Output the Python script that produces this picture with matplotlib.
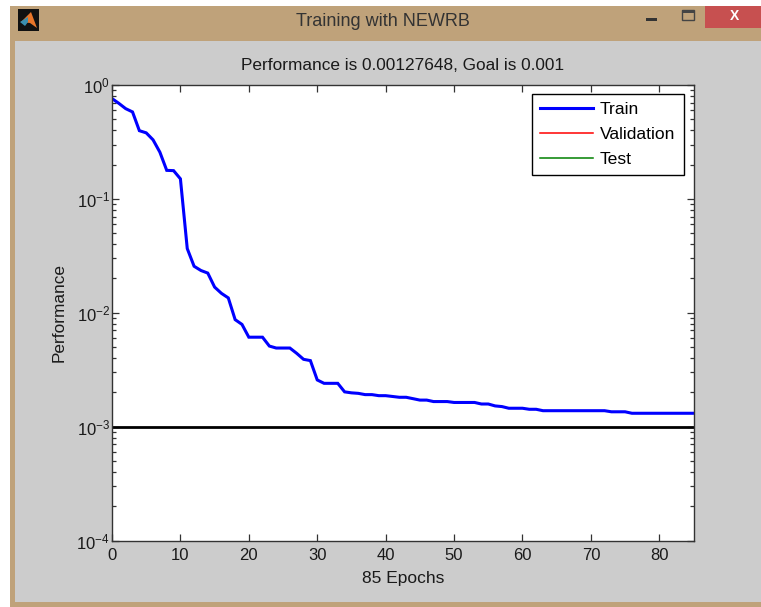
import matplotlib
matplotlib.use("Agg")
import matplotlib.pyplot as plt
from matplotlib.patches import Rectangle, Polygon
from matplotlib.ticker import LogLocator, NullFormatter

plt.rcParams["font.family"] = ["Liberation Sans", "DejaVu Sans"]
plt.rcParams["mathtext.fontset"] = "custom"
plt.rcParams["mathtext.rm"] = "Liberation Sans"
plt.rcParams["mathtext.default"] = "regular"

W, H = 761, 607
TAN = "#bfa27a"
GRAY = "#cccccc"
TEXT = "#1a1a1a"

# Values
epochs = list(range(0, 86))
train_perf = [
    0.76, 0.69, 0.62, 0.58, 0.397, 0.38, 0.33, 0.257, 0.178, 0.177,
    0.15, 0.0366, 0.0256, 0.0235, 0.0223, 0.0168, 0.0148, 0.0135, 0.0087, 0.0079,
    0.0061, 0.0061, 0.0061, 0.0051, 0.0049, 0.0049, 0.0049, 0.0044, 0.0039, 0.0038,
    0.00257, 0.0024, 0.0024, 0.0024, 0.00202, 0.00198, 0.00196, 0.00191, 0.00191, 0.00187,
    0.00187, 0.00184, 0.00181, 0.00181, 0.00176, 0.00171, 0.00171, 0.00166, 0.00166, 0.00166,
    0.00163, 0.00163, 0.00163, 0.00163, 0.00158, 0.00158, 0.00152, 0.0015, 0.00145, 0.00145,
    0.00145, 0.00142, 0.00142, 0.00138, 0.00138, 0.00138, 0.00138, 0.00138, 0.00138, 0.00138,
    0.00138, 0.00138, 0.00138, 0.00135, 0.00135, 0.00135, 0.00131, 0.00131, 0.00131, 0.00131,
    0.00131, 0.00131, 0.00131, 0.00131, 0.00131, 0.00131,
]
goal_x = [0, 85]
goal_y = [0.001, 0.001]
x_ticks = [0, 10, 20, 30, 40, 50, 60, 70, 80]
y_ticks = [1e-4, 1e-3, 1e-2, 1e-1, 1e0]
y_tick_labels = ["$10^{-4}$", "$10^{-3}$", "$10^{-2}$", "$10^{-1}$", "$10^{0}$"]


def add_px_rect(fig, x0, y0, x1, y1, color):
    """Rectangle on the figure, in pixels from the top left."""
    fig.add_artist(Rectangle((x0 / W, 1 - y1 / H), (x1 - x0) / W, (y1 - y0) / H,
                             transform=fig.transFigure, facecolor=color,
                             edgecolor="none"))


def add_px_text(fig, x, y, s, **kw):
    fig.text(x / W, 1 - y / H, s, ha="center", va="center", **kw)


fig = plt.figure(figsize=(W / 100, H / 100), dpi=100, facecolor="white")

# Window frame
add_px_rect(fig, 10, 6, W, H, TAN)
add_px_rect(fig, 14.5, 41, W, 601.5, GRAY)
add_px_rect(fig, 705, 6, W, 28, "#c75050")
add_px_rect(fig, 18, 9, 39, 31, "#111111")
fig.add_artist(Polygon([(21 / W, 1 - 22 / H), (31 / W, 1 - 12 / H), (37 / W, 1 - 28 / H),
                        (30 / W, 1 - 23 / H)], transform=fig.transFigure,
                       facecolor="#e8762a", edgecolor="none"))
fig.add_artist(Polygon([(20 / W, 1 - 22 / H), (28 / W, 1 - 17 / H), (28 / W, 1 - 22 / H),
                        (25 / W, 1 - 26 / H)], transform=fig.transFigure,
                       facecolor="#3a8fb0", edgecolor="none"))
add_px_text(fig, 383, 21, "Training with NEWRB", fontsize=13, color="#333333")
add_px_rect(fig, 646, 18, 657, 20.5, "#333333")
fig.add_artist(Rectangle((681.5 / W, 1 - 20 / H), 12 / W, 10 / H, transform=fig.transFigure,
                         facecolor="none", edgecolor="#444444", linewidth=1))
add_px_rect(fig, 681.5, 10, 693.5, 12.5, "#444444")
add_px_text(fig, 735, 16, "X", fontsize=10, color="white", fontweight="bold")

ax = fig.add_axes([112 / W, 1 - 540.5 / H, (693.5 - 112) / W, (540.5 - 85) / H])
ax.set_zorder(5)
ax.set_facecolor("white")

ax.semilogy(epochs, train_perf, color="#0000ff", linewidth=2.2, label="Train",
            solid_joinstyle="miter")
ax.plot([], [], color="#ff0000", linewidth=1.1, label="Validation")
ax.plot([], [], color="#008000", linewidth=1.1, label="Test")
ax.plot(goal_x, goal_y, color="black", linewidth=2.0)

ax.set_xlim(0, 85)
ax.set_ylim(1e-4, 1e0)
ax.set_xticks(x_ticks)
ax.set_yticks(y_ticks)
ax.set_yticklabels(y_tick_labels)
ax.yaxis.set_minor_locator(LogLocator(base=10, subs=range(2, 10), numticks=20))
ax.yaxis.set_minor_formatter(NullFormatter())
ax.tick_params(which="major", direction="in", top=True, right=True, length=5.3, width=0.9,
               color="#333333", labelsize=12, labelcolor=TEXT)
ax.tick_params(which="minor", direction="in", right=True, length=3.1, width=0.9, color="#333333")
ax.tick_params(axis="x", which="major", pad=5.5)
ax.tick_params(axis="y", which="major", pad=1.5)
for spine in ax.spines.values():
    spine.set_color("#333333")
    spine.set_linewidth(1.0)

ax.set_xlabel("85 Epochs", fontsize=12.5, color=TEXT, labelpad=6)
ax.set_ylabel("Performance", fontsize=12.4, color=TEXT, labelpad=7)
ax.set_title("Performance is 0.00127648, Goal is 0.001", fontsize=12.4, color=TEXT, pad=11)

leg = ax.legend(loc="upper left", bbox_to_anchor=((532 - 112) / 581.5, 1 - (94 - 85) / 455.5),
                borderaxespad=0, fontsize=12.6, frameon=True, fancybox=False, framealpha=1,
                edgecolor="black", borderpad=0.46, labelspacing=0.56, handlelength=3.05,
                handletextpad=0.38)
leg.get_frame().set_linewidth(1.0)

fig.savefig("out.png", dpi=100)
